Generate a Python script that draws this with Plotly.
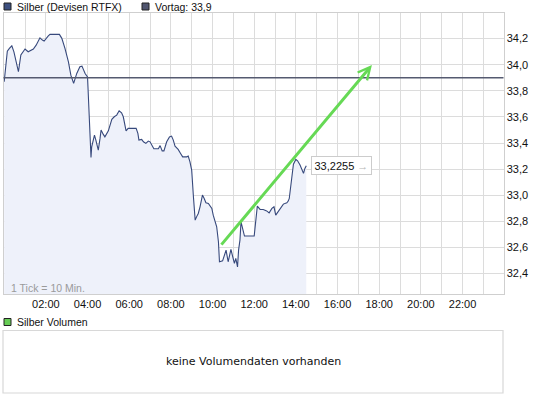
import pandas as pd
import plotly.graph_objects as go

# ---------------- data ----------------
times = ["00:00","00:07","00:09","00:15","00:22","00:28","00:41","00:48","01:00","01:09",
         "01:24","01:32","01:43","01:50","01:55","02:07","02:12","02:39","02:46","02:55",
         "03:05","03:12","03:20","03:29","03:38","03:44","03:53","04:00","04:02","04:04",
         "04:07","04:10","04:12","04:17","04:20","04:24","04:27","04:31","04:36","04:39",
         "04:45","04:50","05:00","05:05","05:10","05:17","05:24","05:31","05:38","05:43",
         "05:48","05:51","05:57","06:20","06:25","06:28","06:36","06:41","06:48","06:55",
         "07:00","07:05","07:11","07:24","07:29","07:35","07:40","07:48","07:56","08:02",
         "08:07","08:12","08:21","08:28","08:34","08:46","08:50","08:55","09:00","09:05",
         "09:10","09:14","09:19","09:24","09:31","09:36","09:41","09:48","09:53","09:58",
         "10:02","10:07","10:12","10:17","10:20","10:29","10:33","10:39","10:45","10:53",
         "10:57","11:03","11:07","11:12","11:15","11:19","11:22","11:26","11:32","12:00",
         "12:04","12:09","12:17","12:26","12:36","12:43","12:51","12:57","13:02","13:08",
         "13:15","13:24","13:34","13:38","13:41","13:44","13:48","13:53","14:00","14:05",
         "14:12","14:17","14:22","14:26","14:30"]
prices = [33.869,34.048,34.104,34.125,34.145,34.099,33.946,34.074,34.120,34.099,
          34.120,34.150,34.206,34.189,34.181,34.221,34.232,34.232,34.202,34.125,
          34.022,33.920,33.857,33.933,33.984,33.989,33.933,33.907,33.805,33.652,
          33.447,33.290,33.371,33.447,33.461,33.422,33.384,33.346,33.435,33.499,
          33.468,33.447,33.493,33.537,33.581,33.601,33.614,33.647,33.631,33.601,
          33.537,33.493,33.512,33.512,33.474,33.422,33.428,33.409,33.397,33.415,
          33.409,33.384,33.356,33.356,33.380,33.340,33.340,33.409,33.447,33.453,
          33.422,33.376,33.351,33.320,33.294,33.294,33.300,33.256,33.192,32.988,
          32.809,32.834,32.860,32.911,33.001,32.975,32.942,32.937,32.916,32.899,
          32.847,32.796,32.758,32.643,32.490,32.497,32.528,32.579,32.490,32.585,
          32.541,32.477,32.516,32.451,32.579,32.656,32.796,32.746,32.687,32.687,
          32.784,32.916,32.891,32.891,32.880,32.865,32.899,32.911,32.847,32.873,
          32.899,32.932,32.942,32.955,32.975,33.039,33.167,33.238,33.274,33.264,
          33.231,33.198,33.167,33.205,33.2255]
prev_close = 33.9
last_label = "33,2255"

y_ticks = [32.4, 32.6, 32.8, 33.0, 33.2, 33.4, 33.6, 33.8, 34.0, 34.2]
y_ticktext = ["32,4", "32,6", "32,8", "33,0", "33,2", "33,4", "33,6", "33,8", "34,0", "34,2"]
x_hours = list(range(0, 24))
x_labeled = ["02:00", "04:00", "06:00", "08:00", "10:00", "12:00", "14:00",
             "16:00", "18:00", "20:00", "22:00"]

trend_start = ("10:22", 32.61)
trend_end = ("17:39", 33.997)

legend_main = "Silber (Devisen RTFX)"
legend_prev = "Vortag: 33,9"
legend_vol = "Silber Volumen"
no_volume = "keine Volumendaten vorhanden"
tick_note = "1 Tick = 10 Min."

# ---------------- helpers ----------------
W, H = 545, 398
BASE = "2011-01-03 "
def ts(t):
    return pd.Timestamp(BASE + t)
def px(x):
    return x / W
def py(y):
    return 1 - y / H

x_dt = [ts(t) for t in times]
tickvals = [ts(f"{h:02d}:00") for h in x_hours]
ticktext = [f"{h:02d}:00" if f"{h:02d}:00" in x_labeled else "" for h in x_hours]

FONT = "Liberation Sans, Arial, sans-serif"
LINE = "#37497c"
FILL = "#eef1fa"
GRID = "#dcdcdc"
BORDER = "#cfcfcf"

fig = go.Figure()
fig.add_trace(go.Scatter(
    x=x_dt, y=prices, mode="lines",
    line=dict(color=LINE, width=1.1),
    fill="tozeroy", fillcolor=FILL,
    hoverinfo="skip", showlegend=False,
))

x0 = ts("00:00") - pd.Timedelta(minutes=2)
x1 = ts("00:00") + pd.Timedelta(hours=24) - pd.Timedelta(minutes=2)

fig.update_layout(
    width=W, height=H,
    margin=dict(l=0, r=0, t=0, b=0),
    paper_bgcolor="white", plot_bgcolor="white",
    font=dict(family=FONT, size=11, color="#111"),
    showlegend=False,
    xaxis=dict(
        domain=[px(3.5), px(503.5)],
        range=[x0, x1],
        type="date",
        tickmode="array", tickvals=tickvals, ticktext=ticktext,
        showgrid=True, gridcolor=GRID, gridwidth=1,
        showline=True, mirror=True, linecolor=BORDER, linewidth=1,
        zeroline=False, ticks="", tickfont=dict(size=11, color="#111"),
        fixedrange=True,
    ),
    yaxis=dict(
        domain=[py(294), py(12.5)],
        range=[32.243, 34.4],
        side="right",
        tickmode="array", tickvals=y_ticks, ticktext=y_ticktext,
        showgrid=True, gridcolor=GRID, gridwidth=1,
        showline=True, mirror=True, linecolor=BORDER, linewidth=1,
        zeroline=False, ticks="", tickfont=dict(size=11, color="#111"),
        fixedrange=True,
    ),
)

shapes = []
# previous close line
shapes.append(dict(type="line", xref="paper", yref="y", x0=px(3.5), x1=px(503.5),
                   y0=prev_close, y1=prev_close, line=dict(color="#555a70", width=1.3)))
# legend squares
def square(x, y, fill):
    return dict(type="rect", xref="paper", yref="paper",
                x0=px(x), x1=px(x + 7), y0=py(y + 7), y1=py(y),
                fillcolor=fill, line=dict(color="#222", width=1))
shapes.append(square(4, 3, "#3d5080"))
shapes.append(square(142, 3, "#50556f"))
shapes.append(square(4, 318.5, "#66cc55"))
# volume box
shapes.append(dict(type="rect", xref="paper", yref="paper",
                   x0=px(3), x1=px(503), y0=py(393), y1=py(330.5),
                   line=dict(color="#d8d8d8", width=1.2), fillcolor="white"))
fig.update_layout(shapes=shapes)

ann = []
ann.append(dict(text=legend_main, xref="paper", yref="paper", x=px(14.5), y=py(7),
                xanchor="left", yanchor="middle", showarrow=False,
                font=dict(size=10.5, color="#111")))
ann.append(dict(text=legend_prev, xref="paper", yref="paper", x=px(152.5), y=py(7),
                xanchor="left", yanchor="middle", showarrow=False,
                font=dict(size=10.5, color="#111")))
ann.append(dict(text=legend_vol, xref="paper", yref="paper", x=px(14.5), y=py(322),
                xanchor="left", yanchor="middle", showarrow=False,
                font=dict(size=10.5, color="#111")))
ann.append(dict(text=no_volume, xref="paper", yref="paper", x=px(253), y=py(361.5),
                xanchor="center", yanchor="middle", showarrow=False,
                font=dict(family="DejaVu Sans, Verdana, sans-serif", size=11, color="#111")))
ann.append(dict(text=tick_note, xref="paper", yref="paper", x=px(8.5), y=py(288),
                xanchor="left", yanchor="middle", showarrow=False,
                font=dict(size=10.5, color="#9a9a9a")))
# last price box
ann.append(dict(text=last_label + " <span style='color:#b5b5b5'><b>&#8594;</b></span>",
                xref="paper", yref="y", x=px(311), y=prices[-1],
                xanchor="left", yanchor="middle", showarrow=False,
                bgcolor="white", bordercolor="#cccccc", borderwidth=1, borderpad=2.5,
                font=dict(size=11, color="#111")))
# green trend arrow
ann.append(dict(x=ts(trend_end[0]), y=trend_end[1], xref="x", yref="y",
                ax=ts(trend_start[0]), ay=trend_start[1], axref="x", ayref="y",
                text="", showarrow=True, arrowhead=5, arrowsize=0.8, arrowwidth=3,
                arrowcolor="#66d955", standoff=0))
fig.update_layout(annotations=ann)

fig.write_html("out.html",
               config={"displayModeBar": False, "staticPlot": True},
               post_script="document.body.style.margin='0';document.body.style.padding='0';")
